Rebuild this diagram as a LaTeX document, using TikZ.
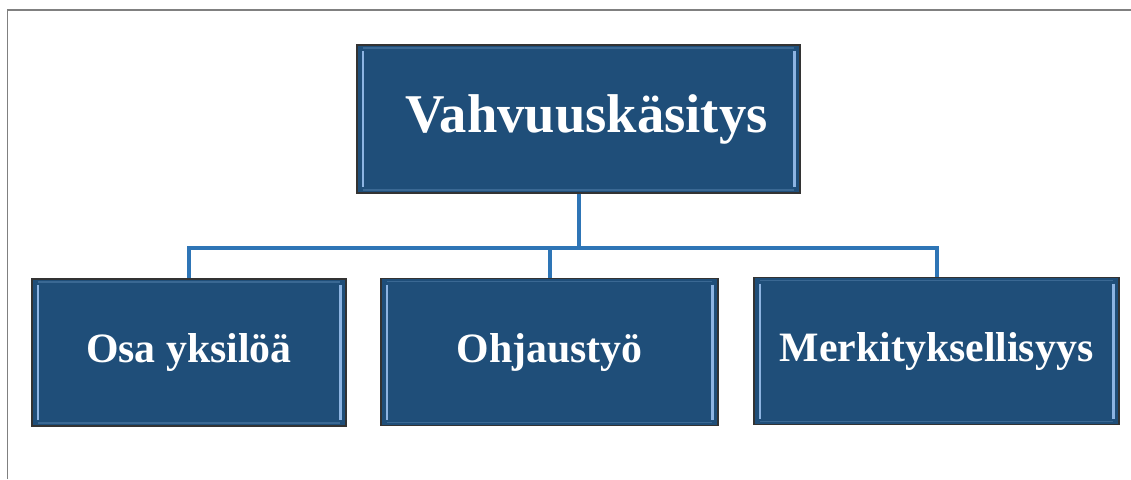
\documentclass[tikz,border=0pt]{standalone}
\usepackage{fontspec}
\setmainfont{Liberation Serif}
\usepackage{xcolor}
\usetikzlibrary{positioning}
\definecolor{laatikko}{RGB}{31,78,121}
\definecolor{reuna}{RGB}{141,180,226}
\definecolor{viiva}{RGB}{46,117,182}

\begin{document}
\begin{tikzpicture}[x=0.5pt,y=-0.5pt,
			lohko/.style={
					rectangle, draw=black!80, line width=0.6pt,
					fill=laatikko, text=white,
					inner sep=0pt, align=center,
					path picture={
							\draw[reuna, line width=1.1pt] ([shift={(2.8pt,-3pt)}]path picture bounding box.north west) -- ([shift={(2.8pt,3pt)}]path picture bounding box.south west);
							\draw[reuna, line width=1.1pt] ([shift={(-2.8pt,-3pt)}]path picture bounding box.north east) -- ([shift={(-2.8pt,3pt)}]path picture bounding box.south east);
							\draw[reuna!25!laatikko, line width=0.8pt] ([shift={(3pt,-1.5pt)}]path picture bounding box.north west) -- ([shift={(-3pt,-1.5pt)}]path picture bounding box.north east);
							\draw[reuna!25!laatikko, line width=0.8pt] ([shift={(3pt,1.5pt)}]path picture bounding box.south west) -- ([shift={(-3pt,1.5pt)}]path picture bounding box.south east);
						}
				},
			paa/.style={lohko, minimum width=221.5pt, minimum height=74pt,
					font=\bfseries\fontsize{27.3}{31}\selectfont},
			lapsi/.style={lohko, minimum height=73.5pt,
					font=\bfseries\fontsize{20.9}{25}\selectfont},
			yhteys/.style={draw=viiva, line width=2pt}
		]
		\useasboundingbox (0,0) rectangle (1131,479);
		\draw[gray, line width=0.6pt] (7.5,479) -- (7.5,10) -- (1131,10);

		\node[paa] (vahvuus) at (578.5,119) {\hspace*{8pt}Vahvuuskäsitys};
		\node[lapsi, minimum width=157pt] (osa) at (189,352.5) {Osa yksilöä};
		\node[lapsi, minimum width=168.5pt] (ohjaus) at (549.5,352) {Ohjaustyö};
		\node[lapsi, minimum width=182.5pt] (merkitys) at (936.5,351) {Merkityksellisyys};

		\coordinate (haara) at (578.5,248); % tästä lapsiin
		\draw[yhteys] (vahvuus.south) -- (haara) -| (osa.north);
		\draw[yhteys] (haara) -| (ohjaus.north);
		\draw[yhteys] (haara) -| (merkitys.north);
	\end{tikzpicture}
\end{document}
